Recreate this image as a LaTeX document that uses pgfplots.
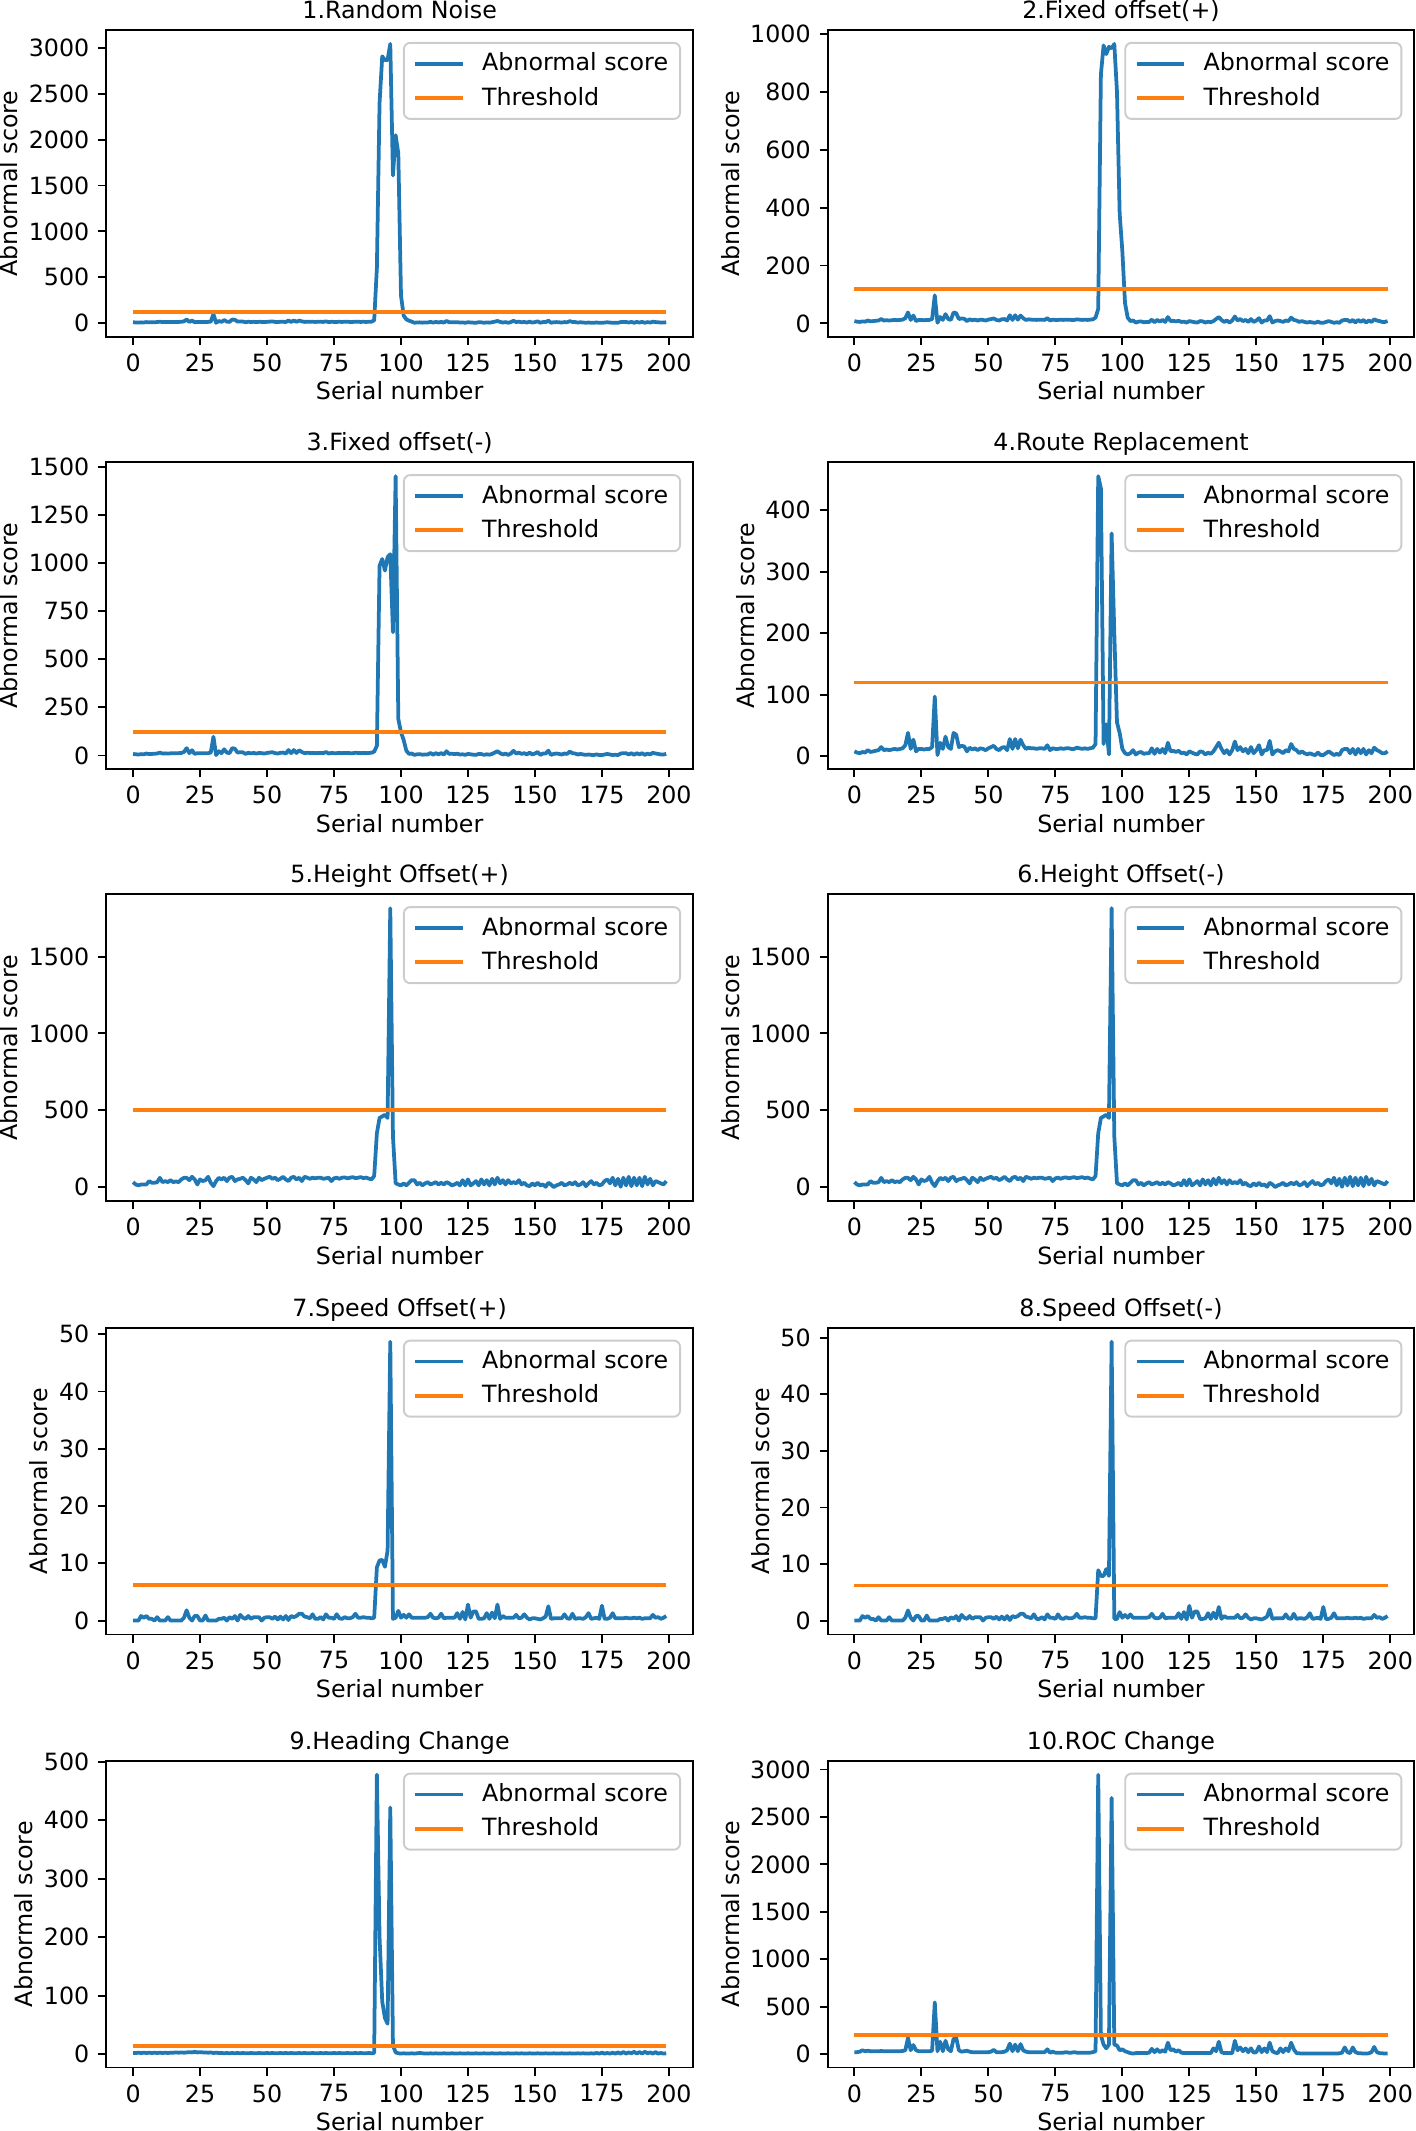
\documentclass[border=0pt]{standalone}
\usepackage{fontspec}
\setmainfont{DejaVu Sans}
\usepackage{pgfplots}
\usepackage{pgfplotstable}
\pgfplotsset{compat=1.18}
\definecolor{c0}{RGB}{31,119,180}
\definecolor{c1}{RGB}{255,127,14}
\newcommand{\fs}{\fontsize{9.5}{11.4}\selectfont}

\pgfplotstableread{
x a b c d e g h i j
0 8 8 8 8 32 0 0 2 20
1 6 6 6 6 17 0 0 2 20
2 5 5 5 5 11 0 0 2.5 25
3 7 7 7 7 17 0.8 0.8 2 40
4 6 6 6 6 17 0.5 0.5 2.5 30
5 10 10 10 10 17 0.8 0.8 2 35
6 7 7 7 7 39 0.3 0.3 2.5 30
7 8 8 8 8 28 0.3 0.3 2 30
8 9 9 9 9 28 0 0 2.5 30
9 10 10 10 10 32 0.6 0.6 2 30
10 15 15 15 15 60 0 0 2.5 32
11 10 10 10 10 32 0 0 2 30
12 11 11 11 11 39 0 0 2.5 30
13 10 10 10 10 32 0.6 0.6 2 30
14 11 11 11 11 45 0 0 2.5 30
15 12 12 12 12 32 0 0 2.5 30
16 11 11 11 11 37 0 0 3 30
17 12 12 12 12 32 0 0 2.5 30
18 13 13 13 13 50 0 0 3 32
19 18 18 18 18 60 0.5 0.5 2.5 40
20 38 38 38 38 60 1.8 1.8 3 170
21 12 12 12 12 45 0.5 0.5 3.5 40
22 27 27 27 27 67 0 0 3 95
23 8 8 8 8 50 0.8 0.8 4 40
24 12 12 12 12 17 0.8 0.8 3 30
25 12 12 12 12 50 0 0 3.5 30
26 11 11 11 11 39 0 0 3 30
27 12 12 12 12 45 0.9 0.9 3 30
28 12 12 12 12 67 0 0 2.5 30
29 15 15 15 15 28 0 0 3 35
30 97 97 97 97 6 0 0 2 545
31 2 2 2 2 39 0 0 2.5 30
32 22 22 22 22 60 0.3 0.3 2 130
33 12 12 12 12 50 0.3 0.3 2 30
34 32 32 32 32 61 0.5 0.5 1.5 140
35 15 15 15 15 39 0 0 2 50
36 12 12 12 12 61 0.6 0.6 1.5 30
37 38 38 38 38 67 0.3 0.3 2 160
38 35 35 35 35 39 0.8 0.8 1.5 170
39 15 15 15 15 50 0 0 2 40
40 17 17 17 17 54 1.0 1.0 1.5 25
41 16 16 16 16 61 0.5 0.5 2 30
42 8 8 8 8 45 0.3 0.3 1.5 35
43 14 14 14 14 24 0.8 0.8 1.5 25
44 11 11 11 11 61 0.3 0.3 2 20
45 13 13 13 13 50 0.6 0.6 1.5 20
46 10 10 10 10 32 0.6 0.6 1.5 20
47 13 13 13 13 61 0.6 0.6 2 20
48 12 12 12 12 45 0 0 1.5 20
49 10 10 10 10 54 0.5 0.5 1.5 20
50 13 13 13 13 61 0.6 0.6 2 20
51 15 15 15 15 67 0.6 0.6 1.5 25
52 17 17 17 17 54 0.3 0.3 2 45
53 12 12 12 12 61 0.7 0.7 1.5 20
54 10 10 10 10 45 0.2 0.2 1.5 20
55 14 14 14 14 54 0.7 0.7 2 20
56 15 15 15 15 67 0.2 0.2 1.5 25
57 10 10 10 10 50 0.8 0.8 2 40
58 28 28 28 28 39 0.1 0.1 1.5 110
59 12 12 12 12 61 0.8 0.8 2 30
60 28 28 28 28 67 0.6 0.6 1.5 100
61 13 13 13 13 50 0.8 0.8 1.5 30
62 27 27 27 27 61 1.2 1.2 2 105
63 18 18 18 18 39 1.2 1.2 1.5 40
64 12 12 12 12 67 0.7 0.7 2 25
65 14 14 14 14 61 0.6 0.6 1.5 20
66 13 13 13 13 54 0.4 0.4 1.5 20
67 13 13 13 13 61 1.1 1.1 2 20
68 12 12 12 12 57 0.3 0.3 1.5 20
69 13 13 13 13 61 0.3 0.3 1.5 20
70 13 13 13 13 61 0.6 0.6 2 20
71 12 12 12 12 54 0.2 0.2 1.5 20
72 18 18 18 18 57 1.1 1.1 2 50
73 10 10 10 10 61 0.5 0.5 1.5 15
74 13 13 13 13 39 0.5 0.5 1.5 25
75 12 12 12 12 57 0.3 0.3 2 15
76 12 12 12 12 61 1.1 1.1 1.5 15
77 13 13 13 13 54 0.4 0.4 2 15
78 12 12 12 12 61 0.3 0.3 1.5 15
79 13 13 13 13 63 0.6 0.6 1.5 20
80 13 13 13 13 57 0.4 0.4 2 15
81 12 12 12 12 61 0.4 0.4 1.5 15
82 12 12 12 12 65 0.6 0.6 1.5 20
83 14 14 14 14 58 1.2 1.2 2 15
84 13 13 13 13 61 0.5 0.5 1.5 15
85 12 12 12 12 65 0.5 0.5 2 15
86 13 13 13 13 58 0.6 0.6 1.5 15
87 12 12 12 12 62 0.5 0.5 1.5 15
88 13 13 13 13 55 0.5 0.5 2 15
89 14 14 14 14 50 0.4 0.4 1.5 20
90 30 20 20 20 72 0.5 0.4 2 30
91 600 50 50 455 350 9.3 8.9 478 2945
92 2400 860 985 435 450 10.5 7.9 200 200
93 2910 960 1020 20 460 10.6 7.9 90 100
94 2870 930 960 52 470 9.4 9.1 62 60
95 2870 955 1030 3 450 12.2 7.9 52 100
96 3045 950 1045 362 1815 48.7 49.3 422 2700
97 1610 965 640 200 330 0.3 0.3 15 100
98 2050 800 1450 55 25 0.5 0.3 3 90
99 1850 380 190 38 17 1.7 1.5 1.5 40
100 300 250 120 12 11 0.5 0.5 1 50
101 80 70 80 5 24 1.0 1.0 1.5 30
102 40 20 25 3 11 0.5 0.5 1 20
103 25 8 8 5 28 1.1 1.1 1 10
104 15 10 10 10 45 0.5 0.5 1.5 5
105 3 3 3 3 45 0.5 0.5 1 10
106 6 6 6 6 17 0.5 0.5 1.5 10
107 7 7 7 7 28 0.5 0.5 2 10
108 4 4 4 4 11 0.5 0.5 1.5 10
109 5 5 5 5 24 0.5 0.5 1 10
110 5 5 5 5 32 0.6 0.6 1 15
111 13 13 13 13 17 1.2 1.2 1.5 55
112 4 4 4 4 24 0.5 0.5 1 20
113 12 12 12 12 32 0.4 0.4 1.5 50
114 6 6 6 6 17 0.5 0.5 1 20
115 12 12 12 12 28 1.2 1.2 1 40
116 5 5 5 5 17 0.4 0.4 1.5 25
117 22 22 22 22 32 0.5 0.5 1 120
118 8 8 8 8 24 0.5 0.5 1 40
119 9 9 9 9 11 0.5 0.5 1.5 50
120 7 7 7 7 17 0.5 0.5 1 25
121 9 9 9 9 28 1.3 1.3 1 40
122 5 5 5 5 11 0.3 0.3 1.5 15
123 6 6 6 6 45 1.5 1.5 1 10
124 3 3 3 3 11 0.2 0.2 1 10
125 8 8 8 8 50 2.8 2.6 1.5 10
126 6 6 6 6 11 0.5 0.5 1 10
127 4 4 4 4 24 1.6 1.6 1 10
128 3 3 3 3 39 1.6 1.6 1.5 10
129 8 8 8 8 11 0.3 0.3 1 10
130 7 7 7 7 50 0.3 0.3 1 10
131 3 3 3 3 17 0.4 0.4 1.5 10
132 6 6 6 6 45 1.3 1.3 1 10
133 4 4 4 4 11 0.3 0.3 1 10
134 8 8 8 8 54 1.4 1.4 1.5 60
135 15 15 15 15 17 0.4 0.4 1 30
136 22 22 22 22 61 2.8 2.4 1 130
137 12 12 12 12 24 0.3 0.3 1.5 20
138 5 5 5 5 45 0.8 0.8 1 10
139 10 10 10 10 17 0.5 0.5 1 10
140 3 3 3 3 45 0.5 0.5 1.5 10
141 10 10 10 10 24 0.5 0.5 1 10
142 24 24 24 24 32 0.5 0.5 1 140
143 10 10 10 10 24 1.0 1.0 1.5 40
144 15 15 15 15 45 0.4 0.4 1 70
145 8 8 8 8 17 0.5 0.5 1.5 30
146 12 12 12 12 28 1.1 1.1 1 60
147 5 5 5 5 11 0.5 0.5 1 20
148 15 15 15 15 6 0.2 0.2 1.5 60
149 5 5 5 5 24 0.4 0.4 1 15
150 10 10 10 10 11 0.4 0.4 1 20
151 18 18 18 18 28 0.3 0.3 1.5 80
152 3 3 3 3 11 0.2 0.2 1 20
153 10 10 10 10 17 0.4 0.4 1 60
154 10 10 10 10 2 0.7 0.7 1.5 20
155 25 25 25 25 28 2.5 2.0 1 120
156 3 3 3 3 17 0.3 0.3 1 30
157 8 8 8 8 0 0.4 0.4 1.5 15
158 10 10 10 10 11 0.4 0.4 1 10
159 8 8 8 8 17 0.4 0.4 1 60
160 5 5 5 5 28 0.4 0.4 1.5 20
161 10 10 10 10 11 1.1 1.1 1 60
162 8 8 8 8 17 0.4 0.4 1 30
163 20 20 20 20 28 0.3 0.3 1.5 120
164 12 12 12 12 17 1.2 1.2 1 50
165 10 10 10 10 32 0.3 0.3 1 10
166 5 5 5 5 11 0.4 0.4 1.5 8
167 8 8 8 8 17 0.4 0.4 1 5
168 5 5 5 5 32 0.3 0.3 1.5 5
169 3 3 3 3 6 0.6 0.6 1 5
170 5 5 5 5 24 1.3 1.3 1 5
171 3 3 3 3 39 0.3 0.3 1.5 5
172 2 2 2 2 17 0.4 0.4 1 5
173 6 6 6 6 28 0.5 0.5 2 5
174 2 2 2 2 11 0.3 0.3 1 5
175 2 2 2 2 17 2.6 2.4 2.5 5
176 5 5 5 5 39 0.3 0.3 1 5
177 8 8 8 8 50 0.3 0.3 2 5
178 5 5 5 5 24 0.5 0.5 1 5
179 2 2 2 2 61 1.3 1.3 2.5 5
180 4 4 4 4 11 0.4 0.4 1 5
181 2 2 2 2 54 0.4 0.4 3 8
182 10 10 10 10 2 0.4 0.4 1 15
183 12 12 12 12 61 0.4 0.4 3.5 70
184 12 12 12 12 11 0.5 0.5 1 20
185 5 5 5 5 67 0.4 0.4 3 10
186 12 12 12 12 6 0.4 0.4 1.5 70
187 3 3 3 3 61 0.5 0.5 4 20
188 12 12 12 12 11 0.4 0.4 1 10
189 5 5 5 5 61 0.5 0.5 3.5 8
190 12 12 12 12 6 0.3 0.3 1 5
191 3 3 3 3 67 0.4 0.4 4 5
192 10 10 10 10 17 0.4 0.4 1.5 8
193 5 5 5 5 54 0.4 0.4 3 20
194 14 14 14 14 11 1.0 1.0 1 75
195 10 10 10 10 39 0.5 0.5 3.5 20
196 8 8 8 8 32 0.6 0.6 1 10
197 5 5 5 5 24 0.3 0.3 2 8
198 5 5 5 5 17 0.5 0.5 1 5
199 8 8 8 8 39 0.8 0.8 1.5 8
}\data

\pgfplotsset{
  legend image code/.code={\draw[#1] (0pt,0pt) -- (19pt,0pt);},
  every axis title/.style={at={(0.5,1)}, anchor=base, yshift=4.6pt, inner sep=0pt, font=\fs},
  panelstyle/.style={
    anchor=north west,
    scale only axis, width=234.6pt, height=122.7pt,
    xmin=-9.95, xmax=208.95,
    enlarge y limits=0.05,
    xtick={0,25,...,200},
    scaled ticks=false,
    /pgf/number format/1000 sep={},
    /pgf/number format/assume math mode=true,
    tick align=outside, xtick pos=bottom, ytick pos=left,
    major tick length=3.3pt,
    every tick/.style={black, line width=0.76pt},
    axis line style={line width=0.76pt},
    tick label style={font=\fs},
    label style={font=\fs},
    xlabel style={inner sep=0.5pt},
    ylabel style={inner sep=0.8pt},
    xlabel={Serial number}, ylabel={Abnormal score},
    legend cell align=left,
    legend style={at={(1,1)}, anchor=north east, xshift=-4.75pt, yshift=-4.75pt,
      draw=black!20, line width=0.76pt, rounded corners=2.5pt, fill=white,
      fill opacity=0.8, draw opacity=1, text opacity=1,
      inner xsep=3.8pt, inner ysep=3pt, row sep=3pt, font=\fs,
      nodes={inner sep=1pt},
      /tikz/every odd column/.append style={column sep=6pt}},
  }
}

\newcommand{\panel}[6]{%
\begin{axis}[panelstyle, at={(#1,#2)}, title={#3}, ytick={#6}]
\addplot[c0, line width=1.5pt, line join=round] table[x=x, y=#4] {\data};
\addplot[c1, line width=1.5pt] coordinates {(0,#5) (199,#5)};
\legend{Abnormal score, Threshold}
\end{axis}}

\begin{document}
\begin{tikzpicture}
\useasboundingbox (0,0) rectangle (566pt,-852.4pt);
\panel{42.56pt}{-12pt}{1.Random Noise}{a}{120}{0,500,...,3000}
\panel{331.1pt}{-12pt}{2.Fixed offset(+)}{b}{120}{0,200,...,1000}
\panel{42.56pt}{-184.9pt}{3.Fixed offset(-)}{c}{120}{0,250,...,1500}
\panel{331.1pt}{-184.9pt}{4.Route Replacement}{d}{120}{0,100,...,400}
\panel{42.56pt}{-357.7pt}{5.Height Offset(+)}{e}{500}{0,500,1000,1500}
\panel{331.1pt}{-357.7pt}{6.Height Offset(-)}{e}{500}{0,500,1000,1500}
\panel{42.56pt}{-531.1pt}{7.Speed Offset(+)}{g}{6.2}{0,10,...,50}
\panel{331.1pt}{-531.1pt}{8.Speed Offset(-)}{h}{6.2}{0,10,...,50}
\panel{42.56pt}{-704.3pt}{9.Heading Change}{i}{14}{0,100,...,500}
\panel{331.1pt}{-704.3pt}{10.ROC Change}{j}{200}{0,500,...,3000}
\end{tikzpicture}
\end{document}
